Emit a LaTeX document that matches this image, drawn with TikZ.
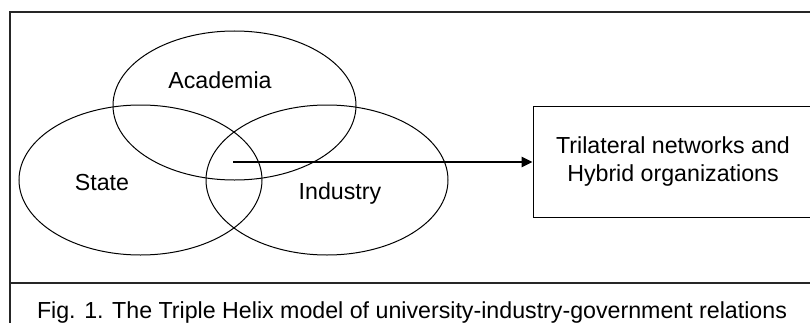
\documentclass[tikz,border=0pt]{standalone}
\usepackage{fontspec}
\setmainfont{Liberation Sans}
\usetikzlibrary{shapes.geometric,arrows.meta}
\begin{document}
\begin{tikzpicture}[x=1pt,y=1pt,
  lbl/.style={font=\fontsize{23.2}{28.5}\selectfont, inner sep=0pt},
  helix/.style={draw=black, line width=1pt, ellipse, inner sep=0pt},
  framel/.style={draw=black!85, line width=1.2pt},
  flow/.style={line width=2.6pt, -{Triangle[length=11pt,width=10pt]}}]
\useasboundingbox (0,0) rectangle (810,322);
\fill[white] (0,0) rectangle (810,322);
% outer frame and caption separator
\draw[framel] (10,-10) -- (10,310) -- (830,310);
\draw[framel] (10,39) -- (830,39);
% ellipses
\node[helix, minimum width=243pt, minimum height=149pt] (acad) at (234.5,216.5) {};
\node[helix, minimum width=243pt, minimum height=150pt] (state) at (140.5,142) {};
\node[helix, minimum width=242pt, minimum height=150pt] (ind) at (327,142) {};
% labels
\node[lbl] (acadl) at (220,242) {Academia};
\node[lbl] (statel) at (102,139) {State};
\node[lbl] (indl) at (340,129) {Industry};
% result box
\node[draw=black, line width=1pt, minimum width=280pt, minimum height=111pt,
      align=center, lbl] (box) at (673,160.5)
  {Trilateral networks and\\Hybrid organizations};
% arrow
\coordinate (core) at (233,160);
\draw[flow] (core) -- (box.west |- core);
% caption
\node[lbl, anchor=base] (cap) at (412,4) {Fig. 1. The Triple Helix model of university-industry-government relations};
\end{tikzpicture}
\end{document}
